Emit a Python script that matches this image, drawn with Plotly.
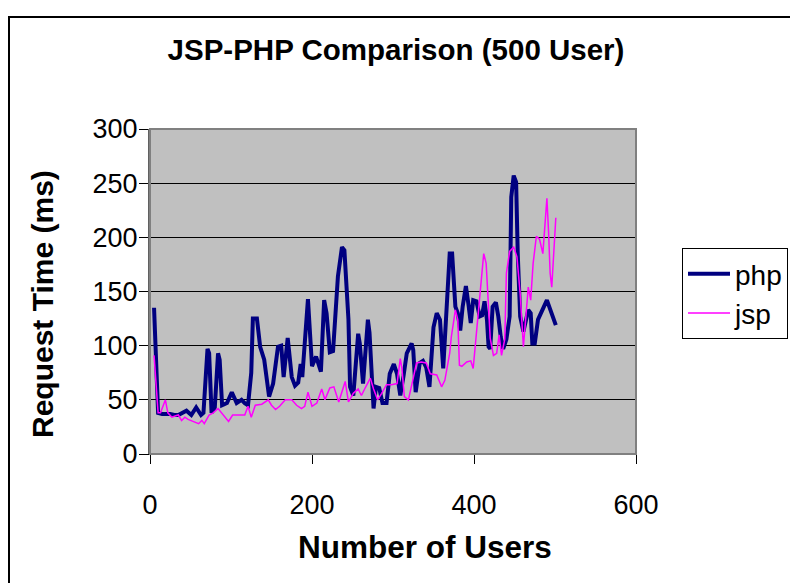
import plotly.graph_objects as go

# ---- data ----
php_users = [5, 10, 15, 20, 25, 30, 35, 45, 51, 57, 63, 66, 69, 71, 73, 76, 80, 82, 84, 86, 89, 95,
             101, 107, 113, 117, 121, 125, 127, 132, 136, 141, 147, 152, 158, 162, 165, 170, 175,
             179, 183, 186, 188, 195, 200, 205, 211, 215, 218, 222, 226, 232, 237, 240, 245, 247,
             251, 257, 259, 263, 269, 271, 276, 279, 283, 287, 292, 296, 301, 305, 309, 313, 317,
             323, 325, 328, 333, 337, 341, 345, 350, 354, 358, 362, 366, 370, 373, 377, 380, 383,
             386, 390, 393, 396, 399, 403, 407, 410, 413, 416, 418, 420, 423, 427, 430, 433, 436,
             440, 444, 446, 449, 452, 454, 457, 461, 465, 467, 470, 472, 475, 479, 490, 501]
php_ms = [135, 38, 37, 37, 37, 36, 36, 40, 36, 43, 36, 38, 75, 97, 93, 38, 43, 67, 93, 87, 45, 47,
          57, 47, 50, 47, 45, 75, 125, 125, 99, 87, 53, 65, 99, 100, 71, 107, 71,
          63, 66, 83, 71, 143, 81, 90, 76, 142, 130, 94, 95, 164, 191, 188, 124, 62,
          54, 111, 102, 65, 124, 112, 42, 62, 61, 47, 47, 74, 83, 74, 54, 72, 93,
          102, 96, 57, 84, 86, 80, 62, 117, 130, 124, 79, 136, 185, 185, 136, 130, 114,
          136, 155, 139, 121, 142, 141, 127, 128, 141, 124, 99, 97, 136, 140, 127, 108, 97,
          106, 127, 237, 257, 251, 185, 127, 113, 124, 133, 130, 102, 102, 124, 142, 119]

jsp_users = [5, 10, 13, 16, 19, 22, 27, 31, 35, 39, 43, 47, 53, 60, 64, 67, 73, 78, 84, 90, 97,
             102, 109, 117, 121, 125, 130, 138, 146, 150, 155, 160, 167, 175, 181, 187, 191, 195,
             200, 206, 212, 216, 222, 227, 233, 237, 241, 245, 251, 257, 261, 265, 272, 276, 281,
             286, 292, 298, 305, 309, 311, 314, 319, 325, 329, 335, 341, 346, 354, 360, 364, 370,
             372, 377, 380, 382, 385, 391, 396, 399, 403, 407, 412, 415, 418, 420, 424, 428, 431,
             434, 438, 440, 444, 449, 453, 457, 461, 464, 467, 470, 473, 477, 481, 485, 487, 490,
             492, 494, 496, 498, 501]
jsp_ms = [91, 38, 38, 45, 50, 38, 34, 35, 36, 31, 34, 32, 30, 28, 31, 28, 36, 38, 42, 36, 30,
          36, 36, 36, 44, 34, 45, 46, 50, 45, 41, 44, 50, 50, 45, 42, 44, 57,
          44, 47, 60, 50, 61, 62, 48, 58, 67, 48, 56, 60, 54, 60, 70, 60, 50,
          56, 64, 64, 65, 88, 79, 53, 50, 70, 84, 85, 84, 74, 73, 62, 68, 93,
          108, 133, 124, 82, 81, 85, 86, 79, 111, 142, 185, 176, 136, 107, 91, 93, 110,
          91, 106, 167, 187, 191, 182, 148, 99, 124, 154, 142, 176, 201, 198, 185, 206, 236,
          206, 167, 154, 185, 218]

x_ticks = [0, 200, 400, 600]
y_ticks = [0, 50, 100, 150, 200, 250, 300]

FONT = "Liberation Sans, Arial, sans-serif"

OFF = 8  # page body margin in the browser
W, H = 798, 583
# plot-area box in screen pixels
L, R, T, B = 150, 636, 129, 454
pw, ph = R - L, B - T


def px_x(p):
    return (p - L) / pw


def px_y(p):
    return (B - p) / ph


fig = go.Figure()
fig.add_trace(go.Scatter(x=php_users, y=php_ms, mode="lines", name="php",
                         line=dict(color="#000080", width=4)))
fig.add_trace(go.Scatter(x=jsp_users, y=jsp_ms, mode="lines", name="jsp",
                         line=dict(color="#FF00FF", width=1.5)))

fig.update_layout(
    width=W, height=H, autosize=False,
    margin=dict(l=L - OFF, r=W - (R - OFF), t=T - OFF, b=H - (B - OFF), pad=0),
    paper_bgcolor="white", plot_bgcolor="#C0C0C0",
    font=dict(family=FONT, color="black"),
    title=dict(text="<b>JSP-PHP Comparison (500 User)</b>", x=(396 - OFF) / W, xanchor="center",
               y=1 - (50 - OFF) / H, yanchor="middle", yref="container",
               font=dict(size=29.5, family=FONT, color="black")),
    showlegend=True,
    legend=dict(xref="container", yref="container",
                x=(682 - OFF) / W, y=1 - (248 - OFF) / H, xanchor="left", yanchor="top",
                bgcolor="white", bordercolor="black", borderwidth=1,
                itemwidth=42,
                font=dict(size=28, family=FONT, color="black")),
    xaxis=dict(range=[0, 600], tickvals=x_ticks, ticks="outside", ticklen=9,
               tickcolor="black", showgrid=False, zeroline=False,
               showline=True, linecolor="black", linewidth=1,
               ticklabelstandoff=18,
               tickfont=dict(size=27, family=FONT, color="black")),
    yaxis=dict(range=[0, 300], tickvals=y_ticks, ticks="outside", ticklen=9,
               tickcolor="black", showgrid=True, gridcolor="black", gridwidth=1,
               zeroline=False, showline=True, linecolor="#606060", linewidth=2,
               ticklabelstandoff=-4,
               tickfont=dict(size=27, family=FONT, color="black")),
    annotations=[
        dict(text="<b>Number of Users</b>", xref="paper", yref="paper",
             x=px_x(425), y=px_y(547), xanchor="center", yanchor="middle",
             showarrow=False, font=dict(size=31.5, family=FONT, color="black")),
        dict(text="<b>Request Time (ms)</b>", xref="paper", yref="paper",
             x=px_x(42), y=px_y(304), xanchor="center", yanchor="middle",
             textangle=-90, showarrow=False,
             font=dict(size=30, family=FONT, color="black")),
    ],
    shapes=[
        # plot-area border (gray)
        dict(type="rect", xref="paper", yref="paper", x0=0, x1=1, y0=0, y1=1,
             line=dict(color="#808080", width=2), layer="above"),
        # outer chart frame (right/bottom edges fall outside the window)
        dict(type="rect", xref="paper", yref="paper",
             x0=px_x(9), x1=px_x(830), y0=px_y(620), y1=px_y(17),
             line=dict(color="black", width=2), layer="above"),
    ],
)

fig.write_html("out.html")
